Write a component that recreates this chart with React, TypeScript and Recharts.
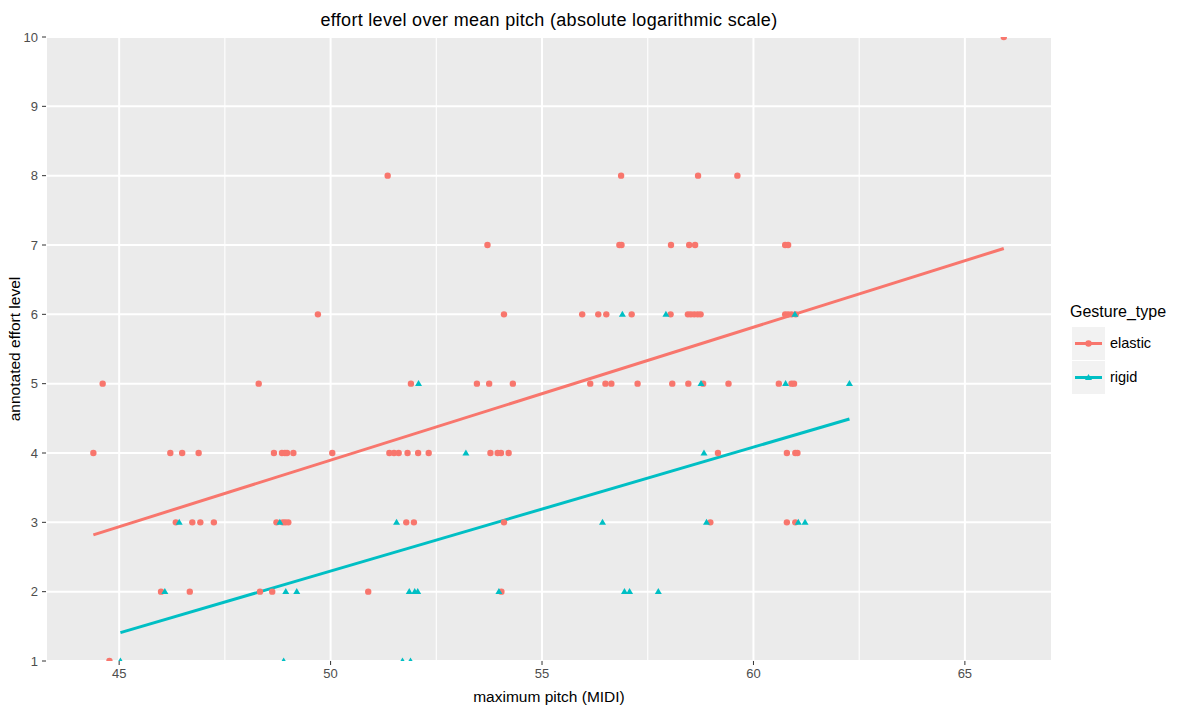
import React from "react";
import {
  ComposedChart,
  Scatter,
  Line,
  XAxis,
  YAxis,
  CartesianGrid,
  ReferenceLine,
  Legend,
} from "recharts";

// ---- data ----
const elasticPitch = [
  65.92,
  51.35, 56.87, 58.69, 59.62,
  53.71, 56.83, 56.88, 58.05, 58.48, 58.62, 60.75, 60.82,
  49.7, 54.1, 55.95, 56.33, 56.52, 57.12, 58.04, 58.45, 58.52, 58.6, 58.68, 58.75, 60.75, 60.82, 60.9, 61.0,
  44.61, 48.3, 51.9, 53.46, 53.75, 54.31, 56.14, 56.5, 56.64, 57.26, 58.08, 58.46, 58.81, 59.41, 60.6, 60.9, 60.96,
  44.39, 46.21, 46.49, 46.88, 48.66, 48.85, 48.92, 48.97, 49.12, 50.04, 51.39, 51.5, 51.61, 51.82, 52.07, 52.32, 53.78, 53.95, 54.03, 54.21, 59.16, 60.79, 60.99, 61.04,
  46.34, 46.73, 46.92, 47.24, 48.72, 48.87, 48.93, 49.0, 51.79, 51.97, 54.1, 58.98, 60.79, 60.99,
  45.99, 46.67, 48.33, 48.62, 50.89, 54.04,
  44.77,
];
const elasticEffort = [
  10,
  8, 8, 8, 8,
  7, 7, 7, 7, 7, 7, 7, 7,
  6, 6, 6, 6, 6, 6, 6, 6, 6, 6, 6, 6, 6, 6, 6, 6,
  5, 5, 5, 5, 5, 5, 5, 5, 5, 5, 5, 5, 5, 5, 5, 5, 5,
  4, 4, 4, 4, 4, 4, 4, 4, 4, 4, 4, 4, 4, 4, 4, 4, 4, 4, 4, 4, 4, 4, 4, 4,
  3, 3, 3, 3, 3, 3, 3, 3, 3, 3, 3, 3, 3, 3,
  2, 2, 2, 2, 2, 2,
  1,
];
const rigidPitch = [
  56.9, 57.93, 60.98,
  52.08, 58.76, 60.76, 62.27,
  53.2, 58.83,
  46.42, 48.8, 51.56, 56.43, 58.89, 61.06, 61.22,
  46.08, 48.94, 49.2, 51.86, 51.99, 52.06, 53.98, 56.95, 57.07, 57.75,
  45.03, 48.89, 51.7, 51.89,
];
const rigidEffort = [
  6, 6, 6,
  5, 5, 5, 5,
  4, 4,
  3, 3, 3, 3, 3, 3, 3,
  2, 2, 2, 2, 2, 2, 2, 2, 2, 2,
  1, 1, 1, 1,
];
const elasticFitPitch = [44.39, 65.92];
const elasticFitEffort = [2.82, 6.95];
const rigidFitPitch = [45.03, 62.27];
const rigidFitEffort = [1.41, 4.49];

const xTicks = [45, 50, 55, 60, 65];
const xMinorTicks = [47.5, 52.5, 57.5, 62.5];
const yTicks = [1, 2, 3, 4, 5, 6, 7, 8, 9, 10];
const seriesNames = ["elastic", "rigid"];
const seriesColors = ["#F8766D", "#00BFC4"];

const toPoints = (xs: number[], ys: number[]) => xs.map((x, i) => ({ x, y: ys[i] }));
const elasticData = toPoints(elasticPitch, elasticEffort);
const rigidData = toPoints(rigidPitch, rigidEffort);
const elasticFit = toPoints(elasticFitPitch, elasticFitEffort);
const rigidFit = toPoints(rigidFitPitch, rigidFitEffort);

const FONT = "'Liberation Sans', Arial, sans-serif";

const CircleShape = (color: string) => (props: any) =>
  <circle cx={props.cx} cy={props.cy} r={3.2} fill={color} />;

const TriangleShape = (color: string) => (props: any) => {
  const { cx, cy } = props;
  const h = 6;
  const w = 7;
  return (
    <polygon
      points={`${cx},${cy - h * 0.6} ${cx - w / 2},${cy + h * 0.4} ${cx + w / 2},${cy + h * 0.4}`}
      fill={color}
    />
  );
};

const LegendContent = () => (
  <div style={{ fontFamily: FONT }}>
    <div style={{ fontSize: 16, color: "#000", height: 24, lineHeight: "24px", marginLeft: 8 }}>
      Gesture_type
    </div>
    {seriesNames.map((name, i) => (
      <div key={name} style={{ display: "flex", alignItems: "center", height: 34, marginLeft: 10, marginTop: i === 0 ? 2 : 0 }}>
        <svg width={33} height={33} style={{ display: "block" }}>
          <rect x={0} y={0} width={33} height={33} fill="#F2F2F2" />
          <line x1={3} x2={30} y1={16.5} y2={16.5} stroke={seriesColors[i]} strokeWidth={3} />
          {i === 0 ? (
            <circle cx={16.5} cy={16.5} r={3.2} fill={seriesColors[i]} />
          ) : (
            <polygon points="16.5,12.9 13,18.9 20,18.9" fill={seriesColors[i]} />
          )}
        </svg>
        <span style={{ fontSize: 14.5, color: "#000", marginLeft: 5 }}>{name}</span>
      </div>
    ))}
  </div>
);

export default function App() {
  return (
    <div
      style={{
        position: "absolute",
        left: 0,
        top: 0,
        width: 1179,
        height: 711,
        background: "#fff",
        fontFamily: FONT,
      }}
    >
      <ComposedChart
        width={1179}
        height={711}
        margin={{ top: 37, right: 127, bottom: 0, left: 0 }}
      >
        <CartesianGrid fill="#EBEBEB" stroke="#FFFFFF" strokeWidth={2} />
        {xMinorTicks.map((v) => (
          <ReferenceLine key={v} x={v} stroke="#FFFFFF" strokeWidth={1.1} />
        ))}
        <XAxis
          type="number"
          dataKey="x"
          domain={[43.27, 67.06]}
          allowDataOverflow
          ticks={xTicks}
          height={50}
          axisLine={false}
          tickSize={4}
          tickMargin={4}
          tickLine={{ stroke: "#333333" }}
          tick={{ fill: "#4D4D4D", fontSize: 13, fontFamily: FONT }}
        />
        <YAxis
          type="number"
          dataKey="y"
          domain={[1, 10]}
          allowDataOverflow
          ticks={yTicks}
          width={46}
          axisLine={false}
          tickSize={4}
          tickMargin={4}
          tickLine={{ stroke: "#333333" }}
          tick={{ fill: "#4D4D4D", fontSize: 13, fontFamily: FONT }}
        />
        <Scatter
          name="elastic"
          data={elasticData}
          fill={seriesColors[0]}
          shape={CircleShape(seriesColors[0])}
          isAnimationActive={false}
          legendType="none"
        />
        <Scatter
          name="rigid"
          data={rigidData}
          fill={seriesColors[1]}
          shape={TriangleShape(seriesColors[1])}
          isAnimationActive={false}
          legendType="none"
        />
        <Line
          data={elasticFit}
          dataKey="y"
          stroke={seriesColors[0]}
          strokeWidth={3}
          dot={false}
          isAnimationActive={false}
          legendType="none"
        />
        <Line
          data={rigidFit}
          dataKey="y"
          stroke={seriesColors[1]}
          strokeWidth={3}
          dot={false}
          isAnimationActive={false}
          legendType="none"
        />
        <Legend
          layout="vertical"
          align="center"
          verticalAlign="middle"
          content={<LegendContent />}
          wrapperStyle={{ left: 1062, top: 300, width: 117 }}
        />
      </ComposedChart>
      <div
        style={{
          position: "absolute",
          left: 46,
          width: 1006,
          top: 9,
          height: 22,
          lineHeight: "22px",
          textAlign: "center",
          fontSize: 18,
          letterSpacing: 0.3,
          color: "#000",
        }}
      >
        effort level over mean pitch (absolute logarithmic scale)
      </div>
      <div
        style={{
          position: "absolute",
          left: 46,
          width: 1006,
          top: 687,
          height: 20,
          lineHeight: "20px",
          textAlign: "center",
          fontSize: 15.5,
          color: "#000",
        }}
      >
        maximum pitch (MIDI)
      </div>
      <div
        style={{
          position: "absolute",
          left: 15 - 150,
          top: 349 - 10,
          width: 300,
          height: 20,
          lineHeight: "20px",
          textAlign: "center",
          fontSize: 15.5,
          color: "#000",
          transform: "rotate(-90deg)",
          transformOrigin: "150px 10px",
        }}
      >
        annotated effort level
      </div>
    </div>
  );
}
